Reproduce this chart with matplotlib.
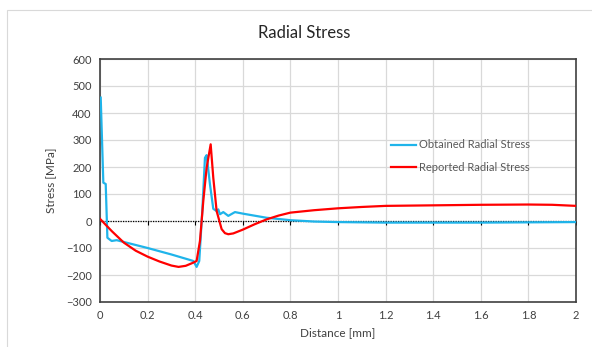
import matplotlib
matplotlib.use("Agg")
import matplotlib.pyplot as plt
from matplotlib.patches import Rectangle

plt.rcParams['font.family'] = ['Lato', 'DejaVu Sans']

# Obtained Radial Stress (blue)
obt_x = [0.003, 0.014, 0.024, 0.031, 0.049, 0.07, 0.2, 0.3, 0.392, 0.406, 0.417,
         0.43, 0.441, 0.448, 0.455, 0.462, 0.476, 0.49, 0.497, 0.504, 0.518, 0.539, 0.567,
         0.602, 0.70, 0.80, 0.9, 1.0, 1.2, 1.4, 1.6, 1.8, 2.0]
obt_y = [457, 142, 137, -62, -74, -71, -100, -124, -148, -170, -148,
         40, 234, 244, 190, 136, 45, 37, 43, 25, 33, 19, 33,
         27, 12, 3, -2, -4, -6, -6, -6, -5, -4]

# Reported Radial Stress (red)
rep_x = [0.0, 0.05, 0.1, 0.15, 0.2, 0.25, 0.3, 0.33, 0.36, 0.39, 0.406, 0.42, 0.434,
         0.448, 0.465, 0.476, 0.49, 0.511, 0.525, 0.539, 0.56, 0.6, 0.65, 0.70, 0.75,
         0.80, 0.9, 1.0, 1.1, 1.2, 1.4, 1.6, 1.8, 1.9, 2.0]
rep_y = [8, -38, -80, -110, -132, -150, -165, -170, -166, -155, -148, -74, 74,
         197, 284, 160, 37, -30, -45, -49, -46, -32, -12, 6, 20,
         31, 40, 47, 52, 56, 58, 60, 61, 60, 56]

xticks = [0, 0.2, 0.4, 0.6, 0.8, 1.0, 1.2, 1.4, 1.6, 1.8, 2.0]
xticklabels = ['0', '0.2', '0.4', '0.6', '0.8', '1', '1.2', '1.4', '1.6', '1.8', '2']
yticks = [-300, -200, -100, 0, 100, 200, 300, 400, 500, 600]

fig = plt.figure(figsize=(5.92, 3.47), dpi=100)
ax = fig.add_axes([100/592, 1-302/347, 476/592, 243/347])

# outer chart border (top & left visible)
fig.patches.append(Rectangle((7/592, -0.2), 1.2, 1-10/347+0.2, transform=fig.transFigure,
                             fill=False, edgecolor='#d9d9d9', lw=0.8, clip_on=False))

ax.set_xlim(0, 2)
ax.set_ylim(-300, 600)
ax.set_xticks(xticks)
ax.set_xticklabels(xticklabels)
ax.set_yticks(yticks)
ax.grid(True, color='#d9d9d9', lw=0.9)
ax.set_axisbelow(True)
for s in ax.spines.values():
    s.set_color('#404040')
    s.set_linewidth(1.2)
ax.tick_params(length=0, labelsize=8, colors='#404040', pad=6)

# zero axis dotted line with tick marks
ax.axhline(0, color='black', ls=(0, (1, 1)), lw=0.9, zorder=2)
ax.plot(xticks, [0]*len(xticks), ls='none', marker=3, ms=3, color='black', mew=0.8, zorder=2)

ax.plot(obt_x, obt_y, color='#1fb4ea', lw=1.6, label='Obtained Radial Stress', zorder=3)
ax.plot(rep_x, rep_y, color='#ff0000', lw=1.6, label='Reported Radial Stress', zorder=4)

leg = ax.legend(loc='upper left', bbox_to_anchor=(0.59, 0.71), frameon=False,
                handlelength=2.3, handletextpad=0.2, labelspacing=1.0, fontsize=8)
for t in leg.get_texts():
    t.set_color('#595959')

ax.set_xlabel('Distance [mm]', fontsize=8.5, color='#404040', labelpad=4)
ax.set_ylabel('Stress [MPa]', fontsize=8.5, color='#404040', labelpad=6)
fig.text(304/592, 1-33/347, 'Radial Stress', fontsize=12, color='#262626', ha='center', va='center')

fig.savefig('out.png', dpi=100)
